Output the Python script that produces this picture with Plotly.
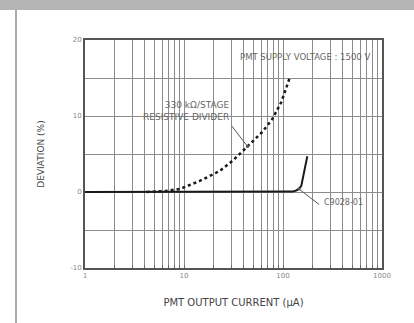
import numpy as np
import plotly.graph_objects as go

# ---- data ----
res_current = [4.2, 6.5, 9.1, 14.4, 22.9, 30.9, 43.8, 61.8, 78, 96, 116]
res_dev = [0.0, 0.13, 0.4, 1.45, 2.76, 4.1, 6.0, 7.9, 9.6, 11.8, 14.9]

act_current = [1, 10, 100, 125, 136, 145, 153, 164, 176]
act_dev = [0.0, 0.0, 0.0, 0.05, 0.2, 0.4, 0.8, 3.0, 4.7]

x_grid = [m * d for d in (1, 10, 100) for m in range(1, 10)] + [1000]
x_text = [str(v) if v in (1, 10, 100, 1000) else "" for v in x_grid]
y_grid = [-10, -5, 0, 5, 10, 15, 20]
y_text = ["-10", "", "0", "", "10", "", "20"]

fig = go.Figure()
fig.add_trace(go.Scatter(x=act_current, y=act_dev, mode="lines",
                         line=dict(color="#1a1a1a", width=2), showlegend=False))
fig.add_trace(go.Scatter(x=res_current, y=res_dev, mode="lines",
                         line=dict(color="#1a1a1a", width=2.5, dash="dot"), showlegend=False))

font = "DejaVu Sans, Arial, sans-serif"
fig.update_layout(
    width=414, height=323,
    margin=dict(l=85, r=32, t=40, b=55),
    paper_bgcolor="white", plot_bgcolor="white",
    font=dict(family=font, color="#555"),
    xaxis=dict(type="log", range=[0, 3], tickvals=x_grid, ticktext=x_text,
               showgrid=True, gridcolor="#8c8c8c", gridwidth=1,
               ticks="inside", ticklen=3, tickcolor="#666",
               showline=True, linecolor="#555", linewidth=2, mirror=True,
               tickfont=dict(size=7, color="#888"), zeroline=False,
               title=dict(text="PMT OUTPUT CURRENT (μA)", font=dict(size=10, color="#444"), standoff=20)),
    yaxis=dict(range=[-10, 20], tickvals=y_grid, ticktext=y_text,
               showgrid=True, gridcolor="#8c8c8c", gridwidth=1,
               showline=True, linecolor="#555", linewidth=2, mirror=True,
               tickfont=dict(size=7, color="#888"), zeroline=False,
               title=dict(text="DEVIATION (%)", font=dict(size=9, color="#444"), standoff=24)),
)

# gray frame decorations
fig.add_shape(type="rect", xref="paper", yref="paper", x0=-0.3, x1=1.2,
              y0=1 + 30 / 228, y1=1 + 41 / 228, fillcolor="#b4b4b4", line_width=0, layer="below")
fig.add_shape(type="line", xref="paper", yref="paper", x0=-69 / 297, x1=-69 / 297,
              y0=-1, y1=1 + 30 / 228, line=dict(color="#aaaaaa", width=2))

fig.add_annotation(xref="paper", yref="paper", x=0.965, y=0.925, xanchor="right", yanchor="middle",
                   text="PMT SUPPLY VOLTAGE : 1500 V", showarrow=False,
                   font=dict(size=8.5, color="#666"))
fig.add_annotation(x=np.log10(30), y=10.6, xanchor="right", yanchor="middle",
                   text="330 kΩ/STAGE<br>RESISTIVE DIVIDER", align="right", showarrow=False,
                   font=dict(size=9, color="#666"))
fig.add_annotation(x=np.log10(43.8), y=6.0, ax=np.log10(29.5), ay=8.9, axref="x", ayref="y",
                   text="", showarrow=True, arrowhead=6, arrowsize=0.8, arrowwidth=1, arrowcolor="#555")
fig.add_annotation(x=np.log10(145), y=0.4, ax=np.log10(240), ay=-1.8, axref="x", ayref="y",
                   text="", showarrow=True, arrowhead=6, arrowsize=0.8, arrowwidth=1, arrowcolor="#555")
fig.add_annotation(x=np.log10(245), y=-1.4, xanchor="left", yanchor="middle",
                   text="C9028-01", showarrow=False, font=dict(size=8, color="#666"))

fig.write_html("out.html", config={"displayModeBar": False},
               post_script="document.body.style.margin='0';")
